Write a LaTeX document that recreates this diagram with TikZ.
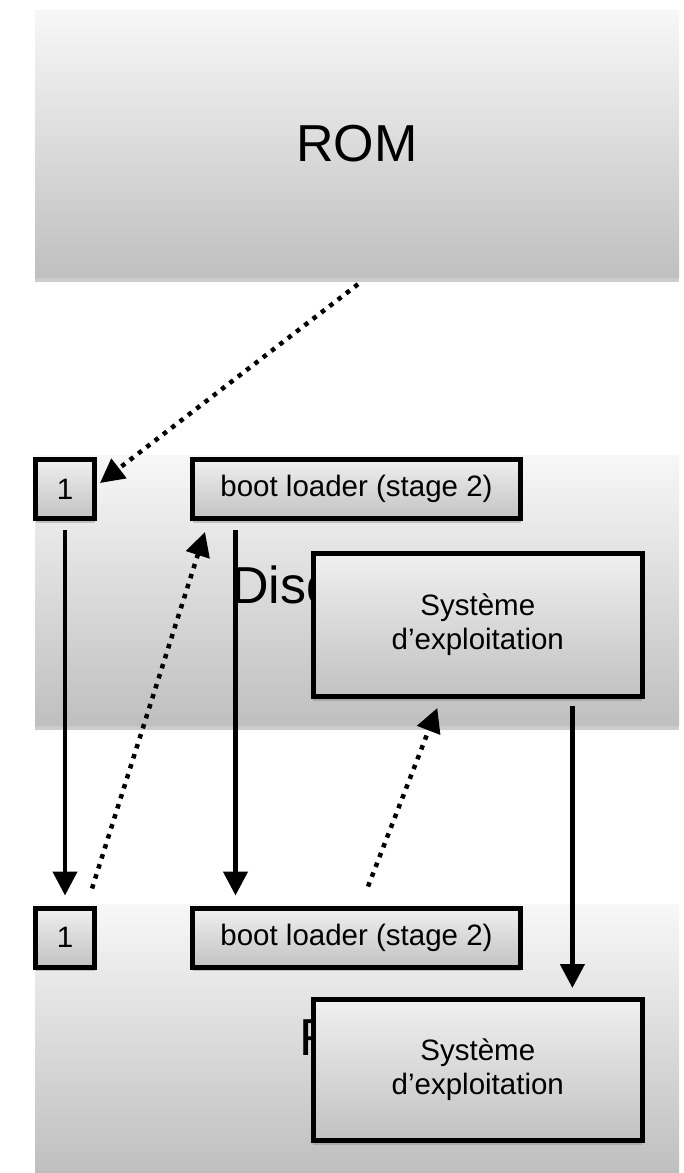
\documentclass[tikz,border=0pt]{standalone}
\usepackage{fontspec}
\setmainfont{Liberation Sans}
\usetikzlibrary{positioning, calc, arrows.meta, shadows}

\begin{document}
\begin{tikzpicture}[x=1pt, y=-1pt,
        mem/.style={rectangle, minimum width=644pt, minimum height=267pt, inner sep=0pt,
            top color=black!3, bottom color=black!25,
            drop shadow={shadow xshift=0pt, shadow yshift=-5pt, opacity=0.4},
            font=\fontsize{52}{60}\selectfont},
        blk/.style={rectangle, draw=black, line width=5pt, inner sep=0pt,
            top color=black!6, bottom color=black!24,
            drop shadow={shadow xshift=0pt, shadow yshift=-4pt, opacity=0.4},
            align=center, font=\fontsize{29.5}{34}\selectfont},
        fleche/.style={-{Triangle[length=24pt, width=24pt]}, line width=4.5pt},
        pointille/.style={fleche, dash pattern=on 4.5pt off 6pt}]
        \useasboundingbox (0,0) rectangle (684,1173);

        % 1. Les trois mémoires
        \node[mem] (rom) at (357, 143.5) {ROM};
        \node[mem, minimum height=270pt] (disque) at (357, 590) {Disque dur};
        \node[mem, minimum height=268pt] (ram) at (357, 1038) {RAM};

        % 2. Les blocs : disque (1) et RAM (2)
        \foreach \r/\y/\yos/\hos in {1/489/625/143, 2/937.5/1070/141} {
            \node[blk, minimum width=59pt, minimum height=59pt] (un\r) at (65, \y) {1};
            \node[blk, minimum width=328pt, minimum height=59pt] (boot\r) at (356.5, \y) {boot loader (stage 2)};
            \node[blk, minimum width=329pt, minimum height=\hos pt] (os\r) at (477.8, \yos) {Système\\d’exploitation};
        }

        % 3. Les flèches
        \draw[pointille] ($(rom.south)+(1,7)$) -- ($(un1.east)+(3,-6)$);
        \draw[fleche] ($(un1.south)+(0,9)$) -- ($(un2.north)+(0,-10)$);
        \draw[pointille] ($(un2.north)+(27,-17)$) -- ($(boot1.south west)+(15,11)$);
        \draw[fleche] ($(boot1.south west)+(45.5,9)$) -- ($(boot2.north west)+(45.5,-10)$);
        \draw[pointille] ($(boot2.north)+(11.5,-19)$) -- ($(os1.south west)+(126.5,9)$);
        \draw[fleche] ($(os1.south east)+(-72.4,7)$) -- ($(os2.north east)+(-72.4,-9)$);

    \end{tikzpicture}
\end{document}
